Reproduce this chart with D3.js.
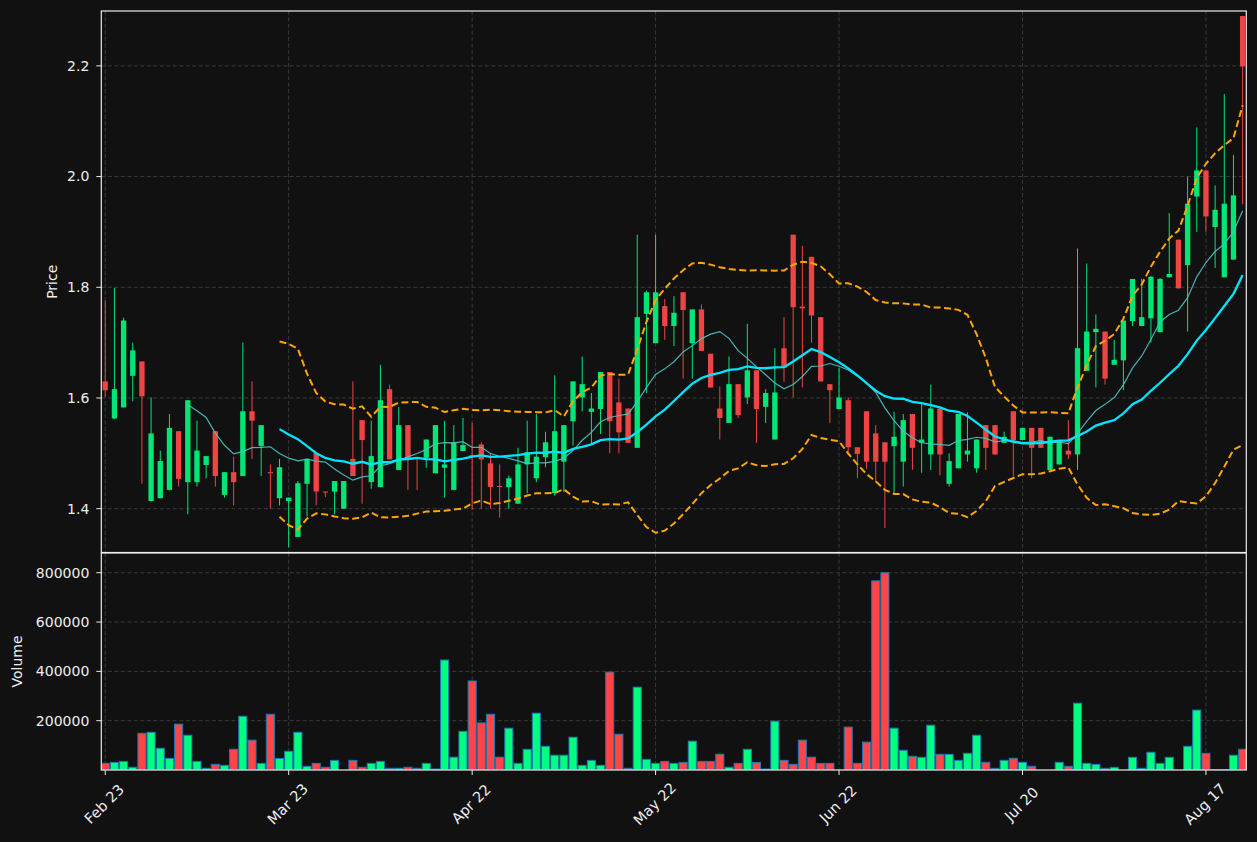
<!DOCTYPE html>
<html><head><meta charset="utf-8">
<script src="https://cdn.jsdelivr.net/npm/d3@7"></script>
<style>body{margin:0;background:#111111}svg{display:block}</style>
</head><body>
<svg id="chart" width="1257" height="842"></svg>
<script>
// ---- data ----
const openP = [1.630,1.563,1.583,1.640,1.666,1.414,1.419,1.434,1.540,1.448,
 1.448,1.479,1.540,1.425,1.466,1.459,1.576,1.513,1.466,1.419,
 1.414,1.349,1.445,1.500,1.431,1.431,1.400,1.490,1.560,1.448,
 1.439,1.616,1.470,1.551,1.4916,1.492,1.464,1.474,1.434,1.504,
 1.497,1.516,1.482,1.441,1.439,1.409,1.480,1.455,1.493,1.428,
 1.485,1.558,1.601,1.575,1.580,1.647,1.592,1.581,1.510,1.752,
 1.699,1.766,1.730,1.791,1.699,1.760,1.680,1.581,1.555,1.625,
 1.601,1.650,1.584,1.525,1.690,1.895,1.765,1.855,1.746,1.625,
 1.580,1.596,1.511,1.576,1.536,1.520,1.513,1.485,1.571,1.519,
 1.498,1.581,1.445,1.473,1.498,1.473,1.551,1.551,1.519,1.576,
 1.524,1.546,1.546,1.470,1.480,1.505,1.498,1.649,1.719,1.720,
 1.660,1.668,1.739,1.730,1.744,1.719,1.818,1.886,1.840,1.964,
 2.011,1.909,1.818,1.850,2.290];
const highP = [1.776,1.799,1.745,1.700,1.666,1.601,1.505,1.571,1.540,1.596,
 1.559,1.495,1.540,1.466,1.494,1.700,1.630,1.551,1.480,1.490,
 1.420,1.450,1.490,1.500,1.431,1.450,1.450,1.630,1.560,1.559,
 1.660,1.624,1.584,1.551,1.4916,1.525,1.551,1.559,1.551,1.564,
 1.555,1.520,1.500,1.480,1.460,1.510,1.559,1.571,1.539,1.641,
 1.551,1.630,1.675,1.609,1.647,1.647,1.635,1.581,1.895,1.794,
 1.895,1.779,1.784,1.791,1.760,1.769,1.680,1.621,1.675,1.625,
 1.734,1.650,1.616,1.690,1.746,1.895,1.875,1.855,1.746,1.625,
 1.655,1.601,1.511,1.576,1.551,1.520,1.575,1.571,1.571,1.589,
 1.624,1.581,1.500,1.571,1.574,1.525,1.551,1.551,1.539,1.576,
 1.546,1.546,1.546,1.530,1.521,1.560,1.870,1.843,1.751,1.720,
 1.705,1.740,1.815,1.815,1.821,1.817,1.934,1.886,2.000,2.089,
 2.011,1.984,2.149,2.039,2.290];
const lowP = [1.602,1.562,1.583,1.594,1.445,1.413,1.419,1.433,1.440,1.390,
 1.440,1.455,1.440,1.420,1.406,1.459,1.490,1.459,1.400,1.406,
 1.330,1.349,1.386,1.406,1.421,1.390,1.400,1.459,1.409,1.436,
 1.439,1.489,1.470,1.434,1.434,1.474,1.464,1.420,1.434,1.504,
 1.398,1.400,1.400,1.384,1.400,1.409,1.428,1.448,1.475,1.424,
 1.430,1.514,1.576,1.517,1.535,1.500,1.500,1.519,1.510,1.609,
 1.699,1.705,1.694,1.635,1.635,1.685,1.619,1.525,1.555,1.564,
 1.589,1.519,1.555,1.525,1.629,1.601,1.619,1.700,1.630,1.555,
 1.580,1.502,1.455,1.472,1.448,1.365,1.428,1.440,1.470,1.465,
 1.470,1.460,1.440,1.473,1.485,1.465,1.470,1.498,1.519,1.459,
 1.524,1.455,1.510,1.470,1.480,1.490,1.470,1.649,1.619,1.624,
 1.660,1.614,1.730,1.730,1.700,1.719,1.818,1.798,1.720,1.900,
 1.900,1.835,1.818,1.850,1.950];
const closeP = [1.614,1.616,1.740,1.686,1.603,1.536,1.486,1.546,1.454,1.596,
 1.505,1.495,1.459,1.466,1.448,1.576,1.559,1.551,1.464,1.475,
 1.420,1.446,1.490,1.431,1.4305,1.450,1.450,1.459,1.524,1.495,
 1.596,1.489,1.551,1.492,1.491,1.525,1.551,1.480,1.520,1.515,
 1.495,1.489,1.439,1.440,1.455,1.480,1.502,1.494,1.520,1.540,
 1.551,1.630,1.625,1.581,1.647,1.558,1.538,1.519,1.746,1.791,
 1.791,1.730,1.754,1.759,1.760,1.685,1.619,1.564,1.625,1.569,
 1.650,1.580,1.609,1.610,1.655,1.764,1.762,1.749,1.630,1.614,
 1.601,1.511,1.499,1.485,1.485,1.485,1.530,1.560,1.510,1.525,
 1.581,1.498,1.486,1.571,1.505,1.525,1.510,1.498,1.530,1.524,
 1.546,1.510,1.510,1.530,1.521,1.498,1.690,1.720,1.725,1.635,
 1.669,1.740,1.815,1.746,1.819,1.815,1.824,1.798,1.951,2.011,
 1.928,1.940,1.951,1.966,2.199];
const volume = [27000,31000,35000,11000,149000,153000,88000,47000,186000,141000,
 35000,7000,23000,19000,84000,218000,121000,27000,226000,47000,
 76000,153000,15000,27000,11000,39000,0,39000,11000,27000,
 35000,7000,7000,11000,7000,27000,4000,446000,52000,157000,
 361000,191000,226000,52000,169500,27000,84000,230500,96000,60000,
 60000,133000,19000,39000,19000,397000,145000,7000,336000,43000,
 27000,35000,27000,31000,117000,35000,35000,64000,11000,27000,
 84000,31000,4000,198000,39000,23000,121000,52000,27000,27000,
 0,174000,27000,113000,767000,800000,169500,80000,55600,51500,
 181700,63700,63700,39300,67800,141000,31200,6800,39300,47500,
 31200,15000,0,0,31200,15000,271000,27000,23000,6800,
 10800,0,51500,6800,72000,27000,51500,0,96000,243000,
 67800,2000,2000,60000,84000];
const tickIndex = [0,20,40,60,80,100,120];
const tickLabels = ["Feb 23","Mar 23","Apr 22","May 22","Jun 22","Jul 20","Aug 17"];
const priceTicks = [1.4,1.6,1.8,2.0,2.2];
const volumeTicks = [200000,400000,600000,800000];

// ---- styling / layout ----
const C = {
  bg:"#111111", grid:"#3a3a3a", spine:"#ececec", text:"#eeeeee",
  up:"#00e676", down:"#ef4444", volUp:"#00ff80", volDown:"#ff4545", volEdge:"#1f77b4",
  ma10:"#4cc4c4", ma20:"#00e5ff", bb:"#ffa500"
};
const L = 101.3, R = 1246.3;
const pTop = 11, pBot = 552.5, vTop = 553, vBot = 770;
const n = closeP.length;

const svg = d3.select("#chart");
svg.append("rect").attr("width",1257).attr("height",842).attr("fill",C.bg);

const x = d3.scaleLinear().domain([-0.43, n - 1 + 0.4]).range([L, R]);
const step = x(1) - x(0);
const pMin = d3.min(lowP), pMax = d3.max(highP);
const pPad = (pMax - pMin) * 0.0095;
const y = d3.scaleLinear().domain([pMin - pPad, pMax + pPad]).range([pBot, pTop]);
const yv = d3.scaleLinear().domain([0, d3.max(volume) * 1.1]).range([vBot, vTop]);

// indicators from close
function sma(arr, w){ return arr.map((_, i) => i < w - 1 ? null : d3.mean(arr.slice(i - w + 1, i + 1))); }
function pstd(arr, w){ return arr.map((_, i) => { if (i < w - 1) return null; const s = arr.slice(i - w + 1, i + 1); const m = d3.mean(s); return Math.sqrt(d3.mean(s, v => (v - m) * (v - m))); }); }
const ma10 = sma(closeP, 10), ma20 = sma(closeP, 20), sd20 = pstd(closeP, 20);
const bbUp = ma20.map((m, i) => m == null ? null : m + 2 * sd20[i]);
const bbLo = ma20.map((m, i) => m == null ? null : m - 2 * sd20[i]);

// clip paths
const defs = svg.append("defs");
defs.append("clipPath").attr("id","cp").append("rect").attr("x",L).attr("y",pTop).attr("width",R-L).attr("height",pBot-pTop);
defs.append("clipPath").attr("id","cv").append("rect").attr("x",L).attr("y",vTop).attr("width",R-L).attr("height",vBot-vTop);

// grids
function grid(g, top, bot, yScale, ticks){
  g.selectAll(".hg").data(ticks).join("line")
    .attr("x1",L).attr("x2",R).attr("y1",d=>yScale(d)).attr("y2",d=>yScale(d))
    .attr("stroke",C.grid).attr("stroke-width",1).attr("stroke-dasharray","4,2.5");
  g.selectAll(".vg").data(tickIndex).join("line").attr("class","vg")
    .attr("x1",d=>x(d)).attr("x2",d=>x(d)).attr("y1",top).attr("y2",bot)
    .attr("stroke",C.grid).attr("stroke-width",1).attr("stroke-dasharray","4,2.5");
}
grid(svg.append("g"), pTop, pBot, y, priceTicks);
grid(svg.append("g"), vTop, vBot, yv, volumeTicks);

// candles
const idx = d3.range(n);
const cg = svg.append("g").attr("clip-path","url(#cp)");
const bw = step * 0.58;
cg.selectAll(".wick").data(idx).join("line")
  .attr("x1",i=>x(i)).attr("x2",i=>x(i)).attr("y1",i=>y(highP[i])).attr("y2",i=>y(lowP[i]))
  .attr("stroke",i=>closeP[i]>=openP[i]?C.up:C.down).attr("stroke-width",1);
cg.selectAll(".body").data(idx).join("rect")
  .attr("x",i=>x(i)-bw/2).attr("width",bw)
  .attr("y",i=>y(Math.max(openP[i],closeP[i])))
  .attr("height",i=>Math.max(1, Math.abs(y(openP[i])-y(closeP[i]))))
  .attr("fill",i=>closeP[i]>=openP[i]?C.up:C.down);

// lines
function ln(arr){ return d3.line().defined(i=>arr[i]!=null).x(i=>x(i)).y(i=>y(arr[i]))(idx); }
cg.append("path").attr("d",ln(ma10)).attr("fill","none").attr("stroke",C.ma10).attr("stroke-width",1.2).attr("opacity",0.9);
cg.append("path").attr("d",ln(ma20)).attr("fill","none").attr("stroke",C.ma20).attr("stroke-width",2.3);
cg.append("path").attr("d",ln(bbUp)).attr("fill","none").attr("stroke",C.bb).attr("stroke-width",2).attr("stroke-dasharray","7,3.5");
cg.append("path").attr("d",ln(bbLo)).attr("fill","none").attr("stroke",C.bb).attr("stroke-width",2).attr("stroke-dasharray","7,3.5");

// volume
const vg = svg.append("g").attr("clip-path","url(#cv)");
const vw = step * 0.88;
vg.selectAll(".vol").data(idx).join("rect")
  .attr("x",i=>x(i)-vw/2).attr("width",vw)
  .attr("y",i=>yv(volume[i])).attr("height",i=>yv(0)-yv(volume[i]))
  .attr("fill",i=>closeP[i]>=openP[i]?C.volUp:C.volDown)
  .attr("stroke",C.volEdge).attr("stroke-width",1);

// spines
[[pTop,pBot],[vTop,vBot]].forEach(([t,b])=>{
  svg.append("rect").attr("x",L).attr("y",t).attr("width",R-L).attr("height",b-t)
    .attr("fill","none").attr("stroke",C.spine).attr("stroke-width",1.2);
});

// axes
const font = "'DejaVu Sans', sans-serif";
function yAxis(scale, ticks, fmt){
  const g = svg.append("g");
  ticks.forEach(t=>{
    const yy = scale(t);
    g.append("line").attr("x1",L-5).attr("x2",L).attr("y1",yy).attr("y2",yy).attr("stroke",C.spine).attr("stroke-width",1);
    g.append("text").attr("x",L-12).attr("y",yy).attr("dy","0.35em").attr("text-anchor","end")
      .attr("fill",C.text).attr("font-family",font).attr("font-size",14).text(fmt(t));
  });
}
yAxis(y, priceTicks, d3.format(".1f"));
yAxis(yv, volumeTicks, d3.format("d"));

const xg = svg.append("g");
tickIndex.forEach((t,k)=>{
  const xx = x(t);
  xg.append("line").attr("x1",xx).attr("x2",xx).attr("y1",vBot).attr("y2",vBot+5).attr("stroke",C.spine).attr("stroke-width",1);
  xg.append("text").attr("transform",`translate(${xx-1},${vBot+34}) rotate(-45)`)
    .attr("text-anchor","middle").attr("dy","0.35em")
    .attr("fill",C.text).attr("font-family",font).attr("font-size",14.5).text(tickLabels[k]);
});

svg.append("text").attr("transform",`translate(57,${(pTop+pBot)/2}) rotate(-90)`)
  .attr("text-anchor","middle").attr("fill",C.text).attr("font-family",font).attr("font-size",14).text("Price");
svg.append("text").attr("transform",`translate(22,${(vTop+vBot)/2}) rotate(-90)`)
  .attr("text-anchor","middle").attr("fill",C.text).attr("font-family",font).attr("font-size",14).text("Volume");
</script>
</body></html>
